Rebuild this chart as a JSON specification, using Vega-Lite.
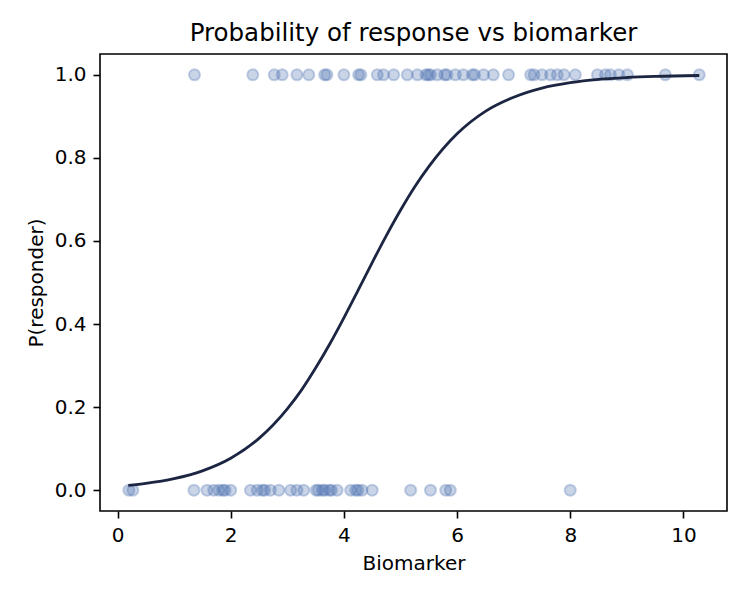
{
  "$schema": "https://vega.github.io/schema/vega-lite/v6.json",
  "autosize": "none",
  "width": 627,
  "height": 457,
  "padding": {"left": 100, "top": 54, "right": 23, "bottom": 89},
  "background": "white",
  "config": {
    "font": "DejaVu Sans",
    "view": {"stroke": "#000000", "strokeWidth": 1.6},
    "axis": {
      "domain": false,
      "grid": false,
      "ticks": true,
      "tickColor": "#000000",
      "tickWidth": 1.6,
      "tickSize": 7,
      "labelFont": "DejaVu Sans",
      "labelFontSize": 20,
      "labelColor": "#000000",
      "labelPadding": 7,
      "titleFont": "DejaVu Sans",
      "titleFontSize": 20,
      "titleFontWeight": "normal",
      "titleColor": "#000000"
    },
    "title": {"font": "DejaVu Sans", "fontSize": 24.5, "fontWeight": "normal", "color": "#000000", "offset": 8}
  },
  "title": {"text": "Probability of response vs biomarker", "anchor": "middle"},
  "datasets": {
    "patients": [
      {"biomarker": 0.20, "responder": 0},
      {"biomarker": 0.27, "responder": 0},
      {"biomarker": 1.35, "responder": 0},
      {"biomarker": 1.58, "responder": 0},
      {"biomarker": 1.70, "responder": 0},
      {"biomarker": 1.79, "responder": 0},
      {"biomarker": 1.86, "responder": 0},
      {"biomarker": 1.90, "responder": 0},
      {"biomarker": 2.00, "responder": 0},
      {"biomarker": 2.35, "responder": 0},
      {"biomarker": 2.47, "responder": 0},
      {"biomarker": 2.56, "responder": 0},
      {"biomarker": 2.60, "responder": 0},
      {"biomarker": 2.70, "responder": 0},
      {"biomarker": 2.85, "responder": 0},
      {"biomarker": 3.06, "responder": 0},
      {"biomarker": 3.17, "responder": 0},
      {"biomarker": 3.29, "responder": 0},
      {"biomarker": 3.51, "responder": 0},
      {"biomarker": 3.55, "responder": 0},
      {"biomarker": 3.62, "responder": 0},
      {"biomarker": 3.66, "responder": 0},
      {"biomarker": 3.74, "responder": 0},
      {"biomarker": 3.78, "responder": 0},
      {"biomarker": 3.88, "responder": 0},
      {"biomarker": 4.12, "responder": 0},
      {"biomarker": 4.21, "responder": 0},
      {"biomarker": 4.25, "responder": 0},
      {"biomarker": 4.32, "responder": 0},
      {"biomarker": 4.50, "responder": 0},
      {"biomarker": 5.18, "responder": 0},
      {"biomarker": 5.53, "responder": 0},
      {"biomarker": 5.80, "responder": 0},
      {"biomarker": 5.88, "responder": 0},
      {"biomarker": 8.00, "responder": 0},
      {"biomarker": 1.36, "responder": 1},
      {"biomarker": 2.39, "responder": 1},
      {"biomarker": 2.77, "responder": 1},
      {"biomarker": 2.91, "responder": 1},
      {"biomarker": 3.17, "responder": 1},
      {"biomarker": 3.38, "responder": 1},
      {"biomarker": 3.66, "responder": 1},
      {"biomarker": 3.70, "responder": 1},
      {"biomarker": 4.00, "responder": 1},
      {"biomarker": 4.26, "responder": 1},
      {"biomarker": 4.30, "responder": 1},
      {"biomarker": 4.59, "responder": 1},
      {"biomarker": 4.70, "responder": 1},
      {"biomarker": 4.88, "responder": 1},
      {"biomarker": 5.12, "responder": 1},
      {"biomarker": 5.30, "responder": 1},
      {"biomarker": 5.45, "responder": 1},
      {"biomarker": 5.49, "responder": 1},
      {"biomarker": 5.53, "responder": 1},
      {"biomarker": 5.65, "responder": 1},
      {"biomarker": 5.78, "responder": 1},
      {"biomarker": 5.82, "responder": 1},
      {"biomarker": 5.97, "responder": 1},
      {"biomarker": 6.11, "responder": 1},
      {"biomarker": 6.27, "responder": 1},
      {"biomarker": 6.31, "responder": 1},
      {"biomarker": 6.47, "responder": 1},
      {"biomarker": 6.64, "responder": 1},
      {"biomarker": 6.91, "responder": 1},
      {"biomarker": 7.30, "responder": 1},
      {"biomarker": 7.36, "responder": 1},
      {"biomarker": 7.50, "responder": 1},
      {"biomarker": 7.65, "responder": 1},
      {"biomarker": 7.77, "responder": 1},
      {"biomarker": 7.89, "responder": 1},
      {"biomarker": 8.09, "responder": 1},
      {"biomarker": 8.48, "responder": 1},
      {"biomarker": 8.62, "responder": 1},
      {"biomarker": 8.71, "responder": 1},
      {"biomarker": 8.86, "responder": 1},
      {"biomarker": 9.01, "responder": 1},
      {"biomarker": 9.68, "responder": 1},
      {"biomarker": 10.28, "responder": 1}
    ],
    "fit": [
      {"biomarker": 0.19, "p": 0.0118},
      {"biomarker": 0.5, "p": 0.0165},
      {"biomarker": 1.0, "p": 0.0279},
      {"biomarker": 1.5, "p": 0.0467},
      {"biomarker": 2.0, "p": 0.0771},
      {"biomarker": 2.5, "p": 0.1249},
      {"biomarker": 3.0, "p": 0.196},
      {"biomarker": 3.25, "p": 0.241},
      {"biomarker": 3.5, "p": 0.294},
      {"biomarker": 3.75, "p": 0.352},
      {"biomarker": 4.0, "p": 0.415},
      {"biomarker": 4.25, "p": 0.481},
      {"biomarker": 4.5, "p": 0.548},
      {"biomarker": 4.75, "p": 0.613},
      {"biomarker": 5.0, "p": 0.674},
      {"biomarker": 5.25, "p": 0.730},
      {"biomarker": 5.5, "p": 0.779},
      {"biomarker": 6.0, "p": 0.858},
      {"biomarker": 6.5, "p": 0.912},
      {"biomarker": 7.0, "p": 0.946},
      {"biomarker": 7.5, "p": 0.968},
      {"biomarker": 8.0, "p": 0.981},
      {"biomarker": 8.5, "p": 0.989},
      {"biomarker": 9.0, "p": 0.9934},
      {"biomarker": 9.5, "p": 0.9961},
      {"biomarker": 10.28, "p": 0.9983}
    ]
  },
  "layer": [
    {
      "data": {"name": "patients"},
      "mark": {"type": "point", "shape": "circle", "filled": false, "fill": "#4c72b0", "fillOpacity": 0.3, "stroke": "#4c72b0", "strokeOpacity": 0.3, "strokeWidth": 2, "size": 123},
      "encoding": {
        "x": {"field": "biomarker", "type": "quantitative", "scale": {"domain": [-0.31, 10.77], "nice": false, "zero": false}, "axis": {"values": [0, 2, 4, 6, 8, 10], "format": "d", "title": "Biomarker", "titlePadding": 8}},
        "y": {"field": "responder", "type": "quantitative", "scale": {"domain": [-0.05, 1.05], "nice": false}, "axis": {"values": [0, 0.2, 0.4, 0.6, 0.8, 1.0], "format": ".1f", "title": "P(responder)", "titlePadding": 8}}
      }
    },
    {
      "data": {"name": "fit"},
      "mark": {"type": "line", "color": "#1c2541", "strokeWidth": 2.8, "interpolate": "monotone"},
      "encoding": {
        "x": {"field": "biomarker", "type": "quantitative"},
        "y": {"field": "p", "type": "quantitative"}
      }
    }
  ]
}
